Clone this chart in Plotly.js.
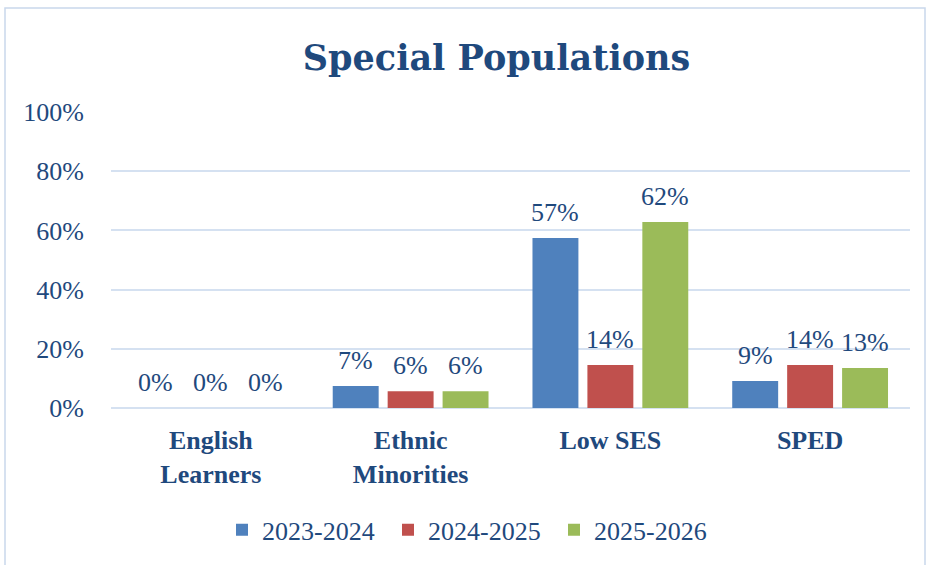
<!DOCTYPE html>
<html>
<head>
<meta charset="utf-8">
<script src="https://cdn.plot.ly/plotly-3.0.1.min.js"></script>
<style>
html,body{margin:0;padding:0;background:#fff;}
#chart{width:927px;height:565px;}
</style>
</head>
<body>
<div id="chart"></div>
<script>
const categories = ["English<br>Learners", "Ethnic<br>Minorities", "Low SES", "SPED"];
const seriesNames = ["2023-2024", "2024-2025", "2025-2026"];
const values2023 = [0.00, 0.074, 0.574, 0.091];
const values2024 = [0.00, 0.057, 0.145, 0.145];
const values2025 = [0.00, 0.057, 0.628, 0.135];
const labels2023 = ["0%", "7%", "57%", "9%"];
const labels2024 = ["0%", "6%", "14%", "14%"];
const labels2025 = ["0%", "6%", "62%", "13%"];
const yTickVals = [0, 0.2, 0.4, 0.6, 0.8, 1.0];
const yTickText = ["0%", "20%", "40%", "60%", "80%", "100%"];

const colors = ["#4f81bd", "#c0504d", "#9bbb59"];
const textColor = "#1f497d";
const serif = "'Liberation Serif', 'Times New Roman', serif";

const allValues = [values2023, values2024, values2025];
const allLabels = [labels2023, labels2024, labels2025];

const traces = allValues.map((vals, i) => ({
  type: "bar",
  name: seriesNames[i],
  x: categories,
  y: vals,
  marker: {color: colors[i]},
  hoverinfo: "skip"
}));

const annotations = [];
allValues.forEach((vals, i) => {
  vals.forEach((v, j) => {
    annotations.push({
      x: categories[j], y: v, xref: "x", yref: "y",
      text: allLabels[i][j], showarrow: false,
      xanchor: "center", yanchor: "bottom",
      xshift: (i - 1) * 55, yshift: 9,
      font: {family: serif, size: 26, color: textColor}
    });
  });
});

const layout = {
  width: 927, height: 565,
  margin: {l: 111, r: 17, t: 112, b: 157},
  paper_bgcolor: "#ffffff", plot_bgcolor: "#ffffff",
  title: {
    text: "<b>Special Populations</b>",
    font: {family: "'DejaVu Serif', serif", size: 35, color: textColor},
    x: 496.5 / 927, xref: "container", xanchor: "center",
    y: 1 - 58 / 565, yref: "container", yanchor: "middle"
  },
  barmode: "group",
  bargap: 0.175,
  bargroupgap: 0.164,
  showlegend: true,
  legend: {
    orientation: "h",
    x: (222 - 111) / 799, xanchor: "left",
    y: -0.412, yanchor: "middle",
    entrywidth: 121,
    entrywidthmode: "pixels",
    font: {family: serif, size: 26, color: textColor},
    itemclick: false, itemdoubleclick: false
  },
  xaxis: {
    type: "category",
    showgrid: false,
    showline: false,
    zeroline: false,
    ticks: "",
    ticklabelstandoff: 14,
    tickfont: {family: serif, size: 26, color: textColor, weight: "bold"},
    fixedrange: true
  },
  yaxis: {
    range: [0, 1.0],
    tickvals: yTickVals,
    ticktext: yTickText,
    showgrid: true,
    gridcolor: "#d5e1f1",
    gridwidth: 2,
    zeroline: true,
    zerolinecolor: "#d5e1f1",
    zerolinewidth: 2,
    showline: false,
    ticks: "",
    ticklabelstandoff: 26,
    tickfont: {family: serif, size: 26, color: textColor},
    fixedrange: true
  },
  annotations: annotations,
  shapes: [{
    type: "rect", xref: "paper", yref: "paper",
    x0: (5 - 111) / 799, x1: (925 - 111) / 799,
    y0: (408 - 572) / 296, y1: (408 - 8) / 296,
    line: {color: "#c9d8ec", width: 1.5},
    fillcolor: "rgba(0,0,0,0)",
    layer: "below"
  }],
  hovermode: false
};

Plotly.newPlot("chart", traces, layout, {displayModeBar: false, staticPlot: true});
</script>
</body>
</html>
